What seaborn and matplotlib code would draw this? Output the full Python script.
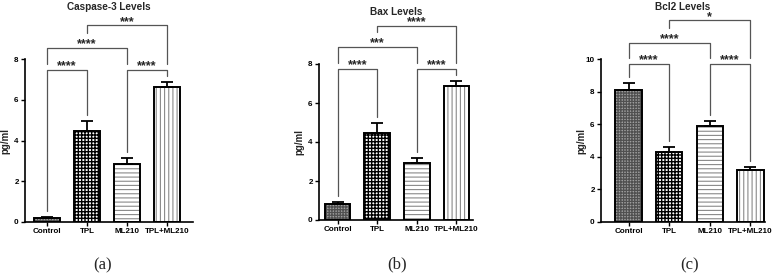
import numpy as np
import matplotlib
matplotlib.use("Agg")
import matplotlib.pyplot as plt
import seaborn as sns

# ---------------- data ----------------
groups = ["Control", "TPL", "ML210", "TPL+ML210"]

casp_mean = [0.18, 4.47, 2.87, 6.61]
casp_err = [0.08, 0.51, 0.25, 0.26]
bax_mean = [0.82, 4.47, 2.90, 6.88]
bax_err = [0.10, 0.53, 0.27, 0.24]
bcl2_mean = [8.10, 4.31, 5.89, 3.17]
bcl2_err = [0.40, 0.29, 0.31, 0.23]

# significance comparisons (group index pairs)
pairs = [(0, 1), (0, 2), (2, 3), (1, 3)]
casp_heights = [7.46, 8.55, 7.46, 9.65]
casp_stars = ["****", "****", "****", "***"]
bax_heights = [7.75, 8.89, 7.75, 9.95]
bax_stars = ["****", "***", "****", "****"]
bcl2_heights = [9.71, 11.0, 9.71, 12.37]
bcl2_stars = ["****", "****", "****", "*"]

titles = ["Caspase-3 Levels", "Bax Levels", "Bcl2 Levels"]
panel_tags = ["(a)", "(b)", "(c)"]

# ---------------- style ----------------
sns.set_style("ticks")
plt.rcParams["font.family"] = ["Liberation Sans", "DejaVu Sans"]
plt.rcParams["hatch.linewidth"] = 0.8

hatches = ["++++++", "+++++", "----", "||||"]
faces = ["#a0a0a0", "white", "white", "white"]
hatch_cols = ["#505050", "black", "#8a8a8a", "#8a8a8a"]
hatch_lw = [0.9, 1.0, 0.8, 0.8]

W, H = 778, 276
fig = plt.figure(figsize=(W / 100, H / 100), dpi=100)

# axes boxes in pixels: left, right, top, bottom ; xlim
boxes = [(25, 193, 59, 222, (-0.55, 3.65)),
         (319, 473, 64, 220, (-0.47, 3.42)),
         (601, 765, 59, 222, (-0.68, 3.36))]
tag_pos = [(103, 265), (397, 264), (690, 265)]

panels = [(casp_mean, casp_err, casp_heights, casp_stars, 8, 2),
          (bax_mean, bax_err, bax_heights, bax_stars, 8, 2),
          (bcl2_mean, bcl2_err, bcl2_heights, bcl2_stars, 10, 2)]

for p, (mean, err, heights, stars, ymax, ystep) in enumerate(panels):
    l, r, t, b, xl = boxes[p]
    ax = fig.add_axes([l / W, 1 - b / H, (r - l) / W, (b - t) / H])

    # hatched fill layer (hatch colour follows edge colour, so no outline here)
    sns.barplot(x=groups, y=mean, ax=ax, color="white", linewidth=0,
                width=0.65, errorbar=None, saturation=1)
    for patch, h, fc, hc, hl in zip(ax.patches, hatches, faces, hatch_cols, hatch_lw):
        patch.set_facecolor(fc)
        patch.set_edgecolor(hc)
        patch.set_linewidth(0)
        patch.set_hatch(h)
        if hasattr(patch, "set_hatch_linewidth"):
            patch.set_hatch_linewidth(hl)
    # black outlines
    sns.barplot(x=groups, y=mean, ax=ax, fill=False, edgecolor="black",
                linewidth=1.4, width=0.65, errorbar=None)

    x = np.arange(len(groups))
    ax.errorbar(x, mean, yerr=[np.zeros(len(err)), err], fmt="none",
                ecolor="black", elinewidth=1.3, capsize=4, capthick=1.3, zorder=3)

    ax.set_xlim(*xl)
    ax.set_ylim(0, ymax)
    ax.set_yticks(np.arange(0, ymax + 0.1, ystep))
    sns.despine(ax=ax)
    for s in ["left", "bottom"]:
        ax.spines[s].set_linewidth(1.2)
        ax.spines[s].set_color("black")
    ax.tick_params(axis="both", length=3, width=1, labelsize=5.8, pad=1.5,
                   colors="black")
    for lbl in ax.get_xticklabels() + ax.get_yticklabels():
        lbl.set_fontweight("bold")
    ax.set_ylabel("pg/ml", fontsize=7, fontweight="bold")
    ax.yaxis.set_label_coords(-15 / (r - l), 0.5)

    ax.text(0.5, 1 + 52 / (b - t), titles[p], transform=ax.transAxes,
            ha="center", va="center", fontsize=7.2, fontweight="bold")

    # significance brackets
    upp = ymax / (b - t)  # data units per pixel
    for k, ((i, j), y, s) in enumerate(zip(pairs, heights, stars)):
        ends = []
        for idx in (i, j):
            lows = [mean[idx] + err[idx]]
            for m, ((a2, b2), h2) in enumerate(zip(pairs, heights)):
                if m == k or h2 >= y:
                    continue
                if a2 <= idx <= b2:
                    lows.append(h2)
                if (a2 + b2) / 2 == idx:
                    lows.append(h2 + 9 * upp)
            ends.append(max(lows) + 6 * upp)
        ax.plot([i, i, j, j], [ends[0], y, y, ends[1]], color="#555555",
                lw=0.9, clip_on=False, zorder=4)
        ax.text((i + j) / 2, y + 0.5 * upp, s, ha="center", va="baseline",
                fontsize=9, fontweight="bold", clip_on=False)

    fig.text(tag_pos[p][0] / W, 1 - tag_pos[p][1] / H, panel_tags[p],
             ha="center", va="center", fontsize=12,
             family=["Liberation Serif", "DejaVu Serif"])

fig.savefig("out.png", dpi=100)
